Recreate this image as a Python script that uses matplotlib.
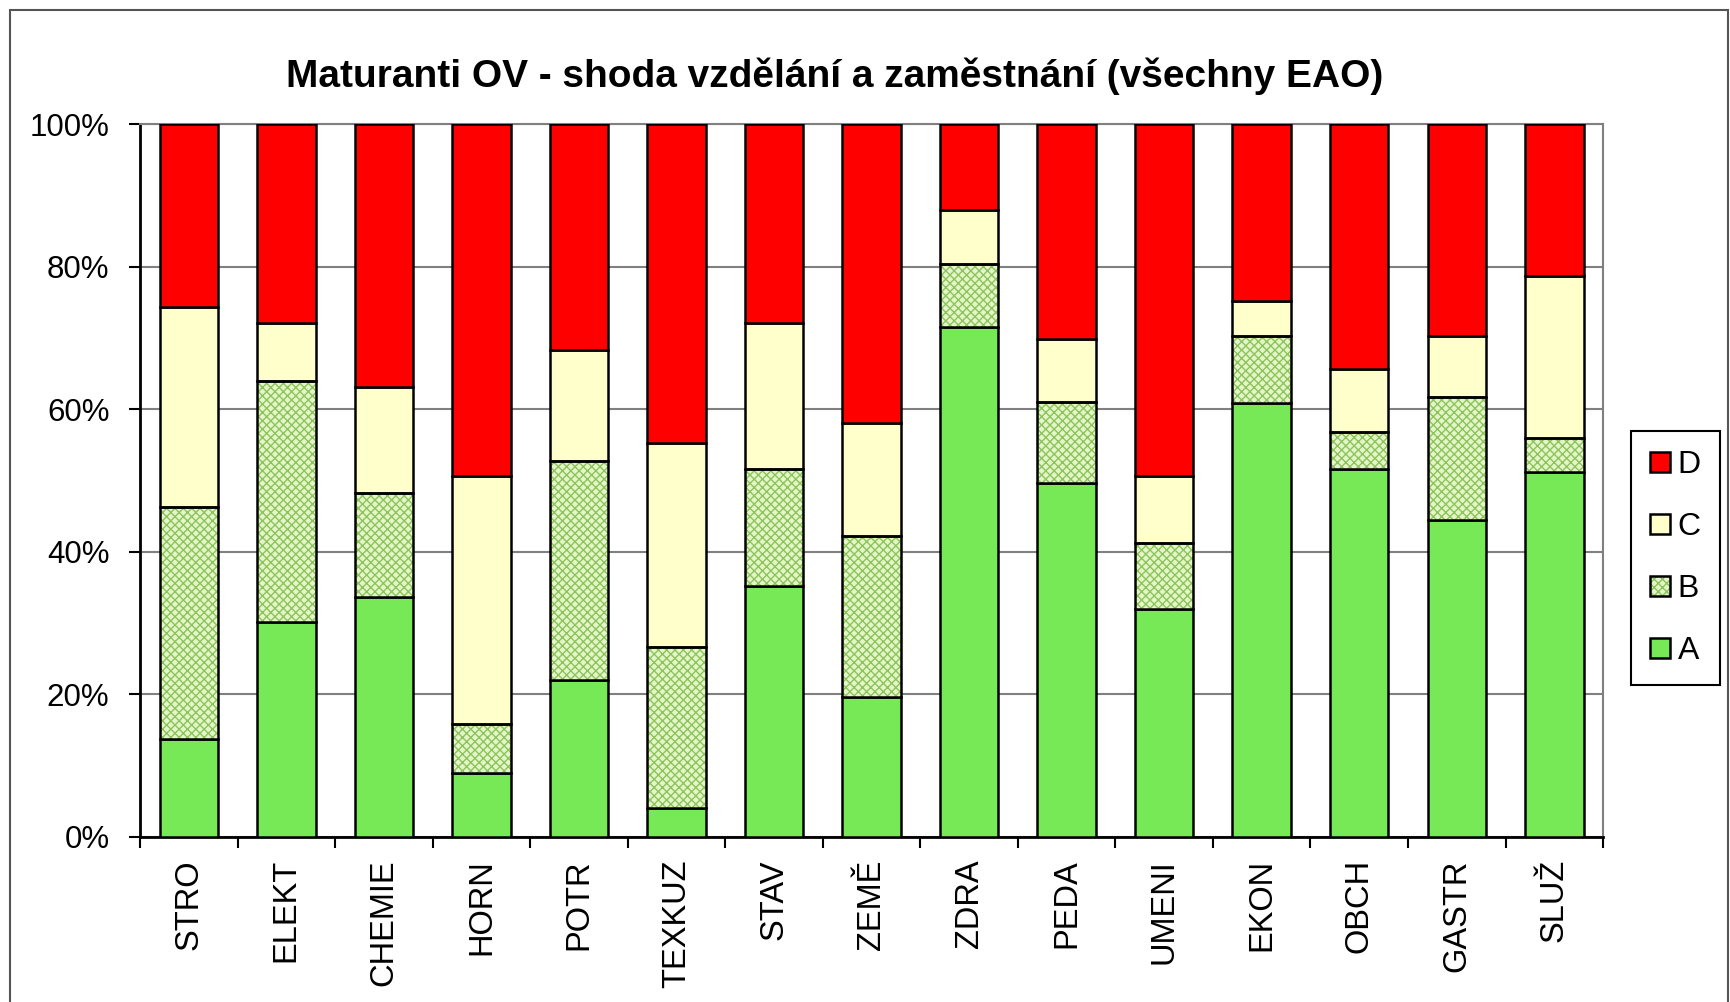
import matplotlib
matplotlib.use("Agg")
import matplotlib.pyplot as plt
from matplotlib.patches import Patch, Rectangle
from matplotlib.legend_handler import HandlerTuple
import numpy as np

plt.rcParams['font.family'] = ['Liberation Sans', 'DejaVu Sans']
plt.rcParams['hatch.color'] = '#8cc45c'
plt.rcParams['hatch.linewidth'] = 1.0

obory = ["STRO", "ELEKT", "CHEMIE", "HORN", "POTR", "TEXKUZ", "STAV", "ZEMĚ",
         "ZDRA", "PEDA", "UMENI", "EKON", "OBCH", "GASTR", "SLUŽ"]
# podily v % (kumulativni horni hrany)
A = [13.7, 30.2, 33.6, 9.0, 22.0, 4.1, 35.2, 19.6, 71.5, 49.6, 32.0, 60.9, 51.6, 44.4, 51.2]
AB = [46.3, 64.0, 48.3, 15.9, 52.7, 26.6, 51.6, 42.2, 80.4, 61.0, 41.3, 70.2, 56.8, 61.7, 55.9]
ABC = [74.4, 72.1, 63.1, 50.7, 68.3, 55.2, 72.1, 58.1, 87.9, 69.8, 50.7, 75.2, 65.6, 70.2, 78.7]

A = np.array(A)
B = np.array(AB) - A
C = np.array(ABC) - np.array(AB)
D = 100 - np.array(ABC)

c_a = '#77e856'
c_b = '#e4f5c8'
c_c = '#ffffcc'
c_d = '#ff0000'

fig = plt.figure(figsize=(17.31, 10.02), dpi=100)
ax = fig.add_axes([0.0809, 0.1647, 0.8452, 0.7115])

x = np.arange(len(obory))
w = 0.6
lw = 1.8
ax.bar(x, A, w, color=c_a, edgecolor='black', linewidth=lw, zorder=3)
ax.bar(x, B, w, bottom=A, color=c_b, hatch='xxxx', linewidth=0, zorder=3)
ax.bar(x, B, w, bottom=A, fill=False, edgecolor='black', linewidth=lw, zorder=4)
ax.bar(x, C, w, bottom=A + B, color=c_c, edgecolor='black', linewidth=lw, zorder=3)
ax.bar(x, D, w, bottom=A + B + C, color=c_d, edgecolor='black', linewidth=lw, zorder=3)

ax.set_xlim(-0.5, len(obory) - 0.5)
ax.set_ylim(0, 100)
ax.set_yticks(np.arange(0, 101, 20))
ax.set_yticklabels([f"{v}%" for v in range(0, 101, 20)], fontsize=22.5)
ax.yaxis.grid(True, color='#808080', linewidth=1.5, zorder=0)
ax.set_axisbelow(True)

ax.set_xticks(np.arange(-0.5, len(obory), 1.0))
ax.set_xticklabels([])
ax.set_xticks(x, minor=True)
ax.set_xticklabels(obory, minor=True, rotation=90, fontsize=23.5, va='top', ha='center')
ax.tick_params(axis='x', which='minor', length=0, pad=16)
ax.tick_params(axis='x', which='major', length=8, width=1.5)
ax.tick_params(axis='y', length=8, width=1.5, pad=14)

for s in ['left', 'bottom']:
    ax.spines[s].set_linewidth(2)
    ax.spines[s].set_color('black')
for s in ['top', 'right']:
    ax.spines[s].set_linewidth(1.5)
    ax.spines[s].set_color('#808080')

fig.text(0.482, 0.924, "Maturanti OV - shoda vzdělání a zaměstnání (všechny EAO)",
         ha='center', va='center', fontsize=28, fontweight='bold')

h_d = Patch(facecolor=c_d, edgecolor='black', linewidth=1.8)
h_c = Patch(facecolor=c_c, edgecolor='black', linewidth=1.8)
h_b = (Patch(facecolor=c_b, hatch='xxxx'), Patch(fill=False, edgecolor='black', linewidth=1.8))
h_a = Patch(facecolor=c_a, edgecolor='black', linewidth=1.8)
leg = fig.legend([h_d, h_c, h_b, h_a], ["D", "C", "B", "A"],
                 handler_map={tuple: HandlerTuple(ndivide=1, pad=0)},
                 loc='center', bbox_to_anchor=(0.968, 0.443), fontsize=23,
                 handlelength=0.6, handleheight=0.6, handletextpad=0.25,
                 labelspacing=1.0, borderpad=0.6, fancybox=False,
                 edgecolor='black', framealpha=1)
leg.get_frame().set_linewidth(1.5)

fig.patches.append(Rectangle((0.006, -0.05), 0.992, 1.04, transform=fig.transFigure,
                             fill=False, edgecolor='#555555', linewidth=1.5))

fig.savefig("out.png", dpi=100)
